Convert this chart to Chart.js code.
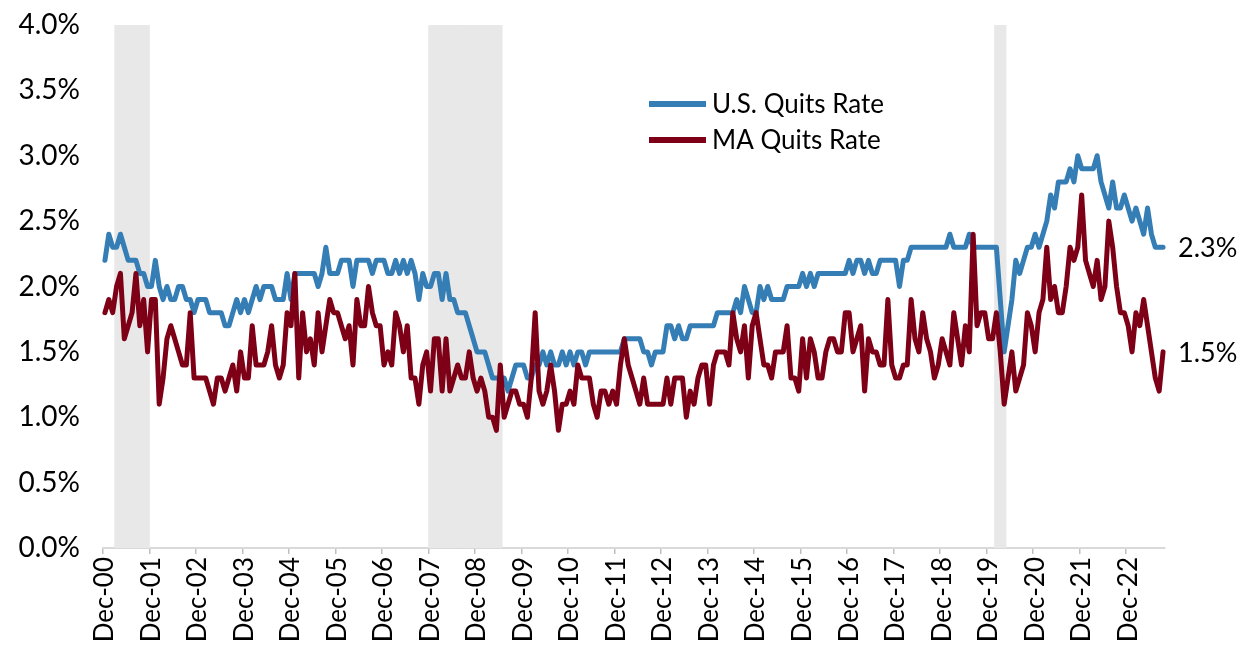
<!DOCTYPE html>
<html>
<head>
<meta charset="utf-8">
<script src="https://cdn.jsdelivr.net/npm/chart.js@4/dist/chart.umd.min.js"></script>
<style>
  html, body { margin: 0; padding: 0; background: #fff; }
</style>
</head>
<body>
<canvas id="quits" width="1243" height="649"></canvas>
<script>
// ── Data (monthly, Dec-00 .. Sep-23) ─────────────────────────────────────
var monthNames = ['Jan','Feb','Mar','Apr','May','Jun','Jul','Aug','Sep','Oct','Nov','Dec'];

var usQuits = [
  2.2,2.4,2.3,2.3,2.4,2.3,2.2,2.2,2.2,2.1,2.1,2.0,
  2.0,2.2,2.0,1.9,2.0,1.9,1.9,2.0,2.0,1.9,1.9,1.8,
  1.9,1.9,1.9,1.8,1.8,1.8,1.8,1.7,1.7,1.8,1.9,1.8,
  1.9,1.8,1.9,2.0,1.9,2.0,2.0,2.0,1.9,1.9,1.9,2.1,
  1.9,2.1,2.1,2.1,2.1,2.1,2.1,2.0,2.1,2.3,2.1,2.1,
  2.1,2.2,2.2,2.2,2.0,2.2,2.2,2.2,2.2,2.1,2.2,2.2,
  2.2,2.1,2.1,2.2,2.1,2.2,2.1,2.2,2.1,1.9,2.1,2.0,
  2.0,2.1,2.1,1.9,2.1,1.9,1.9,1.8,1.8,1.8,1.7,1.6,
  1.5,1.5,1.5,1.4,1.3,1.3,1.3,1.3,1.2,1.3,1.4,1.4,
  1.4,1.3,1.3,1.4,1.4,1.5,1.4,1.5,1.4,1.4,1.5,1.4,
  1.5,1.4,1.5,1.5,1.4,1.5,1.5,1.5,1.5,1.5,1.5,1.5,
  1.5,1.5,1.6,1.6,1.6,1.6,1.6,1.5,1.5,1.4,1.5,1.5,
  1.5,1.7,1.7,1.6,1.7,1.6,1.6,1.7,1.7,1.7,1.7,1.7,
  1.7,1.7,1.8,1.8,1.8,1.8,1.8,1.9,1.8,2.0,1.9,1.8,
  1.8,2.0,1.9,2.0,1.9,1.9,1.9,1.9,2.0,2.0,2.0,2.0,
  2.1,2.0,2.1,2.0,2.1,2.1,2.1,2.1,2.1,2.1,2.1,2.1,
  2.2,2.1,2.2,2.2,2.1,2.2,2.1,2.1,2.2,2.2,2.2,2.2,
  2.2,2.0,2.2,2.2,2.3,2.3,2.3,2.3,2.3,2.3,2.3,2.3,
  2.3,2.3,2.4,2.3,2.3,2.3,2.3,2.4,2.3,2.3,2.3,2.3,
  2.3,2.3,2.3,1.9,1.5,1.7,1.9,2.2,2.1,2.2,2.3,2.3,
  2.4,2.3,2.4,2.5,2.7,2.6,2.8,2.8,2.8,2.9,2.8,3.0,
  2.9,2.9,2.9,2.9,3.0,2.8,2.7,2.6,2.8,2.6,2.6,2.7,
  2.6,2.5,2.6,2.5,2.4,2.6,2.4,2.3,2.3,2.3
];

var maQuits = [
  1.8,1.9,1.8,2.0,2.1,1.6,1.7,1.8,2.1,1.7,1.9,1.5,
  1.9,1.9,1.1,1.3,1.6,1.7,1.6,1.5,1.4,1.4,1.8,1.3,
  1.3,1.3,1.3,1.2,1.1,1.3,1.3,1.2,1.3,1.4,1.2,1.5,
  1.3,1.3,1.7,1.4,1.4,1.4,1.5,1.7,1.4,1.3,1.4,1.8,
  1.7,2.1,1.3,1.8,1.5,1.6,1.4,1.8,1.5,1.7,1.9,1.8,
  1.8,1.7,1.6,1.7,1.4,1.9,1.7,1.7,2.0,1.8,1.7,1.7,
  1.4,1.5,1.4,1.8,1.7,1.5,1.7,1.3,1.3,1.1,1.4,1.5,
  1.2,1.6,1.6,1.2,1.6,1.2,1.3,1.4,1.3,1.3,1.5,1.3,
  1.2,1.3,1.2,1.0,1.0,0.9,1.4,1.0,1.1,1.2,1.2,1.1,
  1.1,1.0,1.3,1.8,1.2,1.1,1.2,1.4,1.2,0.9,1.1,1.1,
  1.2,1.1,1.4,1.3,1.3,1.3,1.1,1.0,1.2,1.2,1.1,1.2,
  1.1,1.4,1.6,1.4,1.3,1.2,1.1,1.3,1.1,1.1,1.1,1.1,
  1.1,1.3,1.1,1.3,1.3,1.3,1.0,1.2,1.1,1.3,1.4,1.4,
  1.1,1.4,1.5,1.5,1.5,1.4,1.8,1.6,1.5,1.7,1.3,1.7,
  1.8,1.6,1.4,1.4,1.3,1.5,1.5,1.5,1.7,1.3,1.3,1.2,
  1.6,1.3,1.6,1.5,1.3,1.3,1.5,1.6,1.6,1.5,1.5,1.8,
  1.8,1.5,1.6,1.7,1.2,1.6,1.5,1.5,1.4,1.4,1.9,1.4,
  1.3,1.3,1.4,1.4,1.9,1.6,1.5,1.8,1.6,1.5,1.3,1.4,
  1.6,1.5,1.4,1.8,1.6,1.4,1.7,1.5,2.4,1.7,1.8,1.8,
  1.6,1.6,1.8,1.5,1.1,1.3,1.5,1.2,1.3,1.4,1.8,1.7,
  1.5,1.8,1.9,2.3,1.9,2.0,1.8,1.8,2.0,2.3,2.2,2.3,
  2.7,2.2,2.1,2.0,2.2,1.9,2.0,2.5,2.3,2.0,1.8,1.8,
  1.7,1.5,1.8,1.7,1.9,1.7,1.5,1.3,1.2,1.5
];

// NBER recessions (first and last month)
var recessions = [['Mar-01','Nov-01'], ['Dec-07','Jun-09'], ['Feb-20','Apr-20']];

// Month labels, starting Dec-00
var labels = [];
for (var i = 0; i < usQuits.length; i++) {
    var m = (11 + i) % 12;
    var yr = Math.floor((11 + i) / 12);
    labels.push(monthNames[m] + '-' + (yr < 10 ? '0' : '') + yr);
}

var yMax = 4;
var recessionBars = labels.map(function(l, idx) {
    var inside = recessions.some(function(r) {
        return idx >= labels.indexOf(r[0]) && idx <= labels.indexOf(r[1]);
    });
    return inside ? yMax : null;
});

var FONT = 'Lato';
var BLUE = '#357db5';
var RED  = '#7e0016';

// ── Legend + end labels (drawn inside the plot) ──────────────────────────
var overlayPlugin = {
    id: 'overlay',
    afterDatasetsDraw: function(chart) {
        var ctx = chart.ctx;
        ctx.save();
        ctx.fillStyle = '#000';
        ctx.textBaseline = 'middle';
        ctx.textAlign = 'left';

        // legend
        ctx.font = '26px ' + FONT;
        var lines = chart.data.datasets.filter(function(d) { return d.type === 'line'; });
        lines.forEach(function(ds, k) {
            var y = 104 + k * 36;
            ctx.strokeStyle = ds.borderColor;
            ctx.lineWidth = 6;
            ctx.lineCap = 'butt';
            ctx.beginPath();
            ctx.moveTo(649, y);
            ctx.lineTo(706, y);
            ctx.stroke();
            ctx.fillText(ds.label, 712, y + 1);
        });

        // last value labels
        ctx.font = '27px ' + FONT;
        chart.data.datasets.forEach(function(ds, di) {
            if (ds.type !== 'line') return;
            var meta = chart.getDatasetMeta(di);
            var pt = meta.data[meta.data.length - 1];
            var v = ds.data[ds.data.length - 1];
            ctx.fillText(v.toFixed(1) + '%', pt.x + 15, pt.y + 1);
        });
        ctx.restore();
    }
};

new Chart(document.getElementById('quits'), {
    type: 'line',
    data: {
        labels: labels,
        datasets: [
            {
                type: 'line',
                label: 'U.S. Quits Rate',
                data: usQuits,
                borderColor: BLUE,
                backgroundColor: BLUE,
                borderWidth: 5,
                borderJoinStyle: 'round',
                borderCapStyle: 'round',
                pointRadius: 0,
                tension: 0,
                order: 1
            },
            {
                type: 'line',
                label: 'MA Quits Rate',
                data: maQuits,
                borderColor: RED,
                backgroundColor: RED,
                borderWidth: 5,
                borderJoinStyle: 'round',
                borderCapStyle: 'round',
                pointRadius: 0,
                tension: 0,
                order: 0
            },
            {
                type: 'bar',
                label: 'Recession',
                data: recessionBars,
                backgroundColor: '#e8e8e8',
                borderWidth: 0,
                barPercentage: 1,
                categoryPercentage: 1,
                order: 2
            }
        ]
    },
    options: {
        responsive: false,
        devicePixelRatio: 1,
        animation: false,
        layout: { padding: { left: 0, right: 78, top: 25, bottom: 0 } },
        plugins: {
            legend: { display: false },
            tooltip: { enabled: false }
        },
        scales: {
            x: {
                type: 'category',
                offset: true,
                grid: {
                    offset: true,
                    drawOnChartArea: false,
                    drawTicks: true,
                    tickLength: 6,
                    lineWidth: 1.5,
                    color: function(c) {
                        var l = labels[c.index];
                        return (l && l.indexOf('Dec') === 0) ? '#bfbfbf' : 'rgba(0,0,0,0)';
                    }
                },
                border: { display: true, color: '#d9d9d9', width: 2 },
                ticks: {
                    autoSkip: false,
                    maxRotation: 90,
                    minRotation: 90,
                    padding: 3,
                    color: '#000',
                    font: { family: FONT, size: 26 },
                    callback: function(v, idx) {
                        return labels[idx].indexOf('Dec') === 0 ? labels[idx] : '';
                    }
                },
                afterFit: function(s) { s.height = 101; }
            },
            y: {
                min: 0,
                max: yMax,
                grid: { display: false, drawTicks: false },
                border: { display: false },
                ticks: {
                    stepSize: 0.5,
                    padding: 23,
                    color: '#000',
                    font: { family: FONT, size: 28 },
                    callback: function(v) { return v.toFixed(1) + '%'; }
                },
                afterFit: function(s) {
                    s.width = 103;
                    s.paddingTop = 0;
                    s.paddingBottom = 0;
                }
            }
        }
    },
    plugins: [overlayPlugin]
});
</script>
</body>
</html>
